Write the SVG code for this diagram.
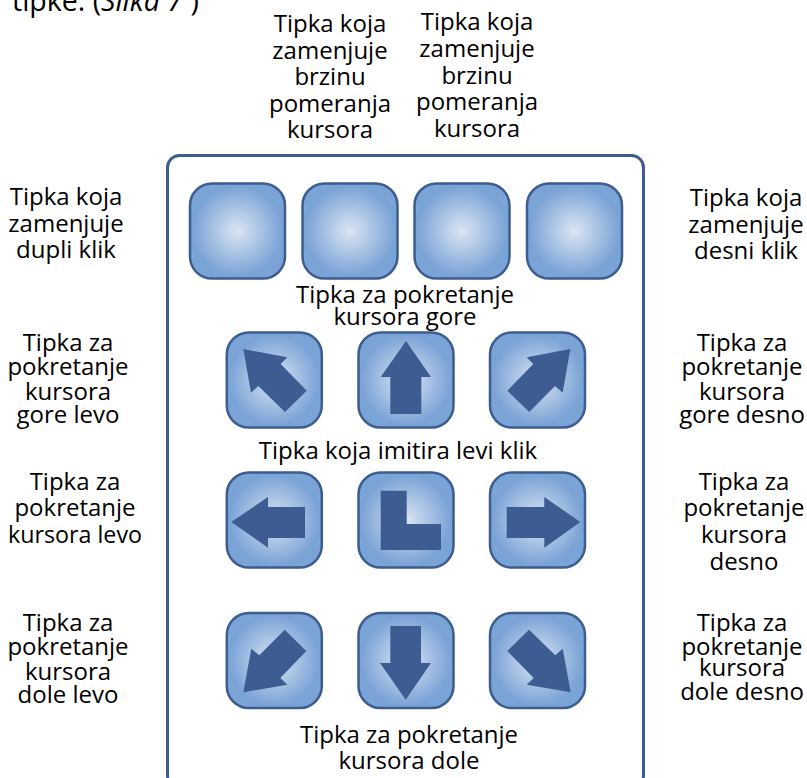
<svg xmlns="http://www.w3.org/2000/svg" width="807" height="778" viewBox="0 0 807 778">
<style>
text{font-family:"Open Sans","Noto Sans","Liberation Sans",sans-serif;font-size:24px;fill:#000;text-anchor:middle}
.b{fill:url(#g);stroke:#3d5c91;stroke-width:2.5}
.a{fill:#3d5c91}
</style>
<defs>
<radialGradient id="g" cx="0.5" cy="0.5" r="0.5"><stop offset="0" stop-color="#dbe5f3"/><stop offset="0.95" stop-color="#7aa3d6"/></radialGradient>
<rect id="k" x="-47.5" y="-47.5" width="95" height="95" rx="22" ry="22" class="b"/>
</defs>
<rect width="807" height="778" fill="#fff"/>
<text x="12" y="11" style="text-anchor:start;font-size:28.5px">tipke:  (<tspan font-style="italic">Slika 7 </tspan>)</text>
<g id="frame"><rect x="167.5" y="155.5" width="476" height="632" rx="12" fill="#fff" stroke="#3d5c91" stroke-width="3"/></g>
<g id="connectors"/>
<g id="key-1"><use href="#k" x="237.5" y="231"/></g>
<g id="key-2"><use href="#k" x="350" y="231"/></g>
<g id="key-3"><use href="#k" x="462" y="231"/></g>
<g id="key-4"><use href="#k" x="574.5" y="231"/></g>
<g id="key-up-left"><use href="#k" x="274.3" y="380"/><polygon class="a" points="243.3,349 287.3,357.3 280.7,364 306.7,390.7 285,412 258.3,386 251,392.7"/></g>
<g id="key-up"><use href="#k" x="406" y="380"/><polygon class="a" points="406,341 431,377 421.3,377 421.3,414 390.3,414 390.3,377 380.7,377"/></g>
<g id="key-up-right"><use href="#k" x="537.5" y="380"/><polygon class="a" points="570.3,349 526.7,357.3 533.3,364 507.3,390.7 529.3,412 555,386 562.7,392.7"/></g>
<g id="key-left"><use href="#k" x="274.3" y="520"/><polygon class="a" points="231.3,522 268,497 268,507 305,507 305,538 268,538 268,547.7"/></g>
<g id="key-click"><use href="#k" x="406" y="520"/><polygon class="a" points="380.7,490.7 406.7,490.7 406.7,524 441,524 441,550 380.7,550"/></g>
<g id="key-right"><use href="#k" x="537.5" y="520"/><polygon class="a" points="580.3,522 544.3,497 544.3,507 506.7,507 506.7,538 544.3,538 544.3,547.7"/></g>
<g id="key-down-left"><use href="#k" x="274.3" y="660.5"/><polygon class="a" points="243.3,692.3 287.3,684.7 280.3,678 306.3,651 284.7,629.7 259.3,655.3 251.3,648.7"/></g>
<g id="key-down"><use href="#k" x="406" y="660.5"/><polygon class="a" points="405.7,699.7 431,663 421,663 421,626 390.3,626 390.3,663 380,663"/></g>
<g id="key-down-right"><use href="#k" x="537.5" y="660.5"/><polygon class="a" points="570.7,692.3 526.7,684.7 533.7,678 507.3,651 529,629.7 555.3,655.3 562.7,648.7"/></g>
<g id="labels">
<text x="330" y="32">Tipka koja</text><text x="330" y="59">zamenjuje</text><text x="330" y="85">brzinu</text><text x="330" y="112">pomeranja</text><text x="330" y="138">kursora</text>
<text x="477" y="30">Tipka koja</text><text x="477" y="57">zamenjuje</text><text x="477" y="84">brzinu</text><text x="477" y="110">pomeranja</text><text x="477" y="137">kursora</text>
<text x="66" y="205">Tipka koja</text><text x="66" y="232">zamenjuje</text><text x="66" y="258">dupli klik</text>
<text x="746" y="206">Tipka koja</text><text x="746" y="233">zamenjuje</text><text x="746" y="259">desni klik</text>
<text x="405" y="303">Tipka za pokretanje</text><text x="405" y="325">kursora gore</text>
<text x="398" y="459">Tipka koja imitira levi klik</text>
<text x="409" y="743">Tipka za pokretanje</text><text x="409" y="769">kursora dole</text>
<text x="68" y="351">Tipka za</text><text x="68" y="375">pokretanje</text><text x="68" y="400">kursora</text><text x="68" y="423">gore levo</text>
<text x="742" y="351">Tipka za</text><text x="742" y="375">pokretanje</text><text x="742" y="400">kursora</text><text x="742" y="423">gore desno</text>
<text x="75" y="490">Tipka za</text><text x="75" y="516">pokretanje</text><text x="75" y="543" textLength="134" lengthAdjust="spacingAndGlyphs">kursora levo</text>
<text x="744" y="490">Tipka za</text><text x="744" y="516">pokretanje</text><text x="744" y="543">kursora</text><text x="744" y="570">desno</text>
<text x="68" y="631">Tipka za</text><text x="68" y="655">pokretanje</text><text x="68" y="680">kursora</text><text x="68" y="703">dole levo</text>
<text x="742" y="631">Tipka za</text><text x="742" y="655">pokretanje</text><text x="742" y="676">kursora</text><text x="742" y="700">dole desno</text>
</g>
</svg>
